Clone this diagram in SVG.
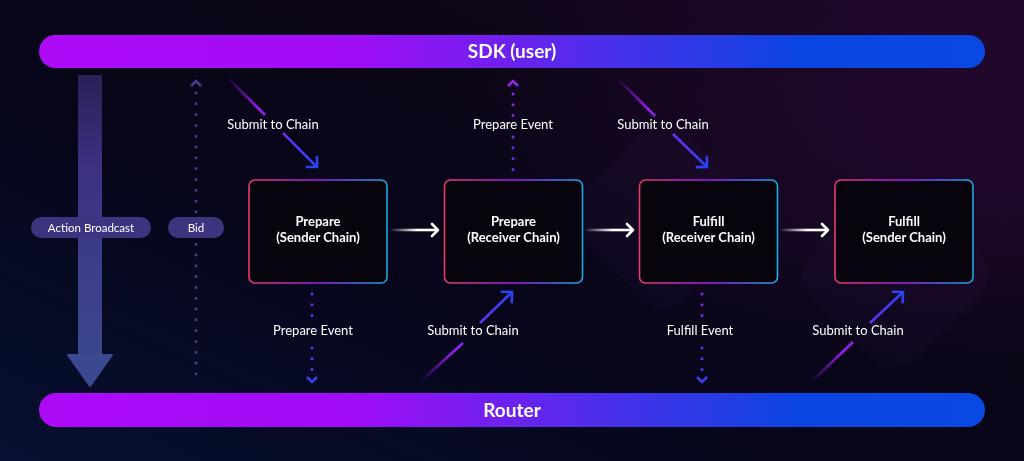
<svg xmlns="http://www.w3.org/2000/svg" width="1024" height="461" viewBox="0 0 1024 461">
<defs>
  <linearGradient id="bg" x1="0" y1="1" x2="1" y2="0">
    <stop offset="0" stop-color="#061030"/>
    <stop offset="0.4" stop-color="#07061a"/>
    <stop offset="0.7" stop-color="#0e0618"/>
    <stop offset="1" stop-color="#1e0628"/>
  </linearGradient>
  <radialGradient id="glowR" cx="0.95" cy="0.3" r="0.5">
    <stop offset="0" stop-color="#2a0838" stop-opacity="0.6"/>
    <stop offset="1" stop-color="#2a0838" stop-opacity="0"/>
  </radialGradient>
  <linearGradient id="bar" x1="39" y1="0" x2="985" y2="0" gradientUnits="userSpaceOnUse">
    <stop offset="0" stop-color="#ad0af8"/>
    <stop offset="0.33" stop-color="#a10cf7"/>
    <stop offset="0.6" stop-color="#4b2fea"/>
    <stop offset="0.8" stop-color="#0b45e1"/>
    <stop offset="1" stop-color="#0a48e2"/>
  </linearGradient>
  <linearGradient id="nodeStroke" x1="0" y1="0" x2="1" y2="0">
    <stop offset="0" stop-color="#e63a6a"/>
    <stop offset="0.5" stop-color="#a01ef0"/>
    <stop offset="1" stop-color="#16aaea"/>
  </linearGradient>
  <linearGradient id="shaft" x1="0" y1="75" x2="0" y2="386" gradientUnits="userSpaceOnUse">
    <stop offset="0" stop-color="#3a2c74" stop-opacity="0.7"/>
    <stop offset="0.3" stop-color="#3d3282"/>
    <stop offset="1" stop-color="#3b4a90"/>
  </linearGradient>
  <linearGradient id="wArrow" x1="0" y1="0" x2="1" y2="0">
    <stop offset="0" stop-color="#ffffff" stop-opacity="0"/>
    <stop offset="0.6" stop-color="#ffffff"/>
    <stop offset="1" stop-color="#ffffff"/>
  </linearGradient>
  <linearGradient id="s1" x1="227" y1="77" x2="317" y2="167" gradientUnits="userSpaceOnUse">
    <stop offset="0" stop-color="#9a1cf0" stop-opacity="0"/>
    <stop offset="0.35" stop-color="#9a1cf0"/>
    <stop offset="1" stop-color="#2a44f5"/>
  </linearGradient>
  <linearGradient id="s2" x1="617" y1="78" x2="707" y2="167" gradientUnits="userSpaceOnUse">
    <stop offset="0" stop-color="#9a1cf0" stop-opacity="0"/>
    <stop offset="0.35" stop-color="#9a1cf0"/>
    <stop offset="1" stop-color="#2a44f5"/>
  </linearGradient>
  <linearGradient id="s3" x1="420" y1="382" x2="512" y2="292" gradientUnits="userSpaceOnUse">
    <stop offset="0" stop-color="#9a1cf0" stop-opacity="0"/>
    <stop offset="0.35" stop-color="#9a1cf0"/>
    <stop offset="1" stop-color="#2a44f5"/>
  </linearGradient>
  <linearGradient id="s4" x1="810" y1="383" x2="903" y2="292" gradientUnits="userSpaceOnUse">
    <stop offset="0" stop-color="#9a1cf0" stop-opacity="0"/>
    <stop offset="0.35" stop-color="#9a1cf0"/>
    <stop offset="1" stop-color="#2a44f5"/>
  </linearGradient>
  <linearGradient id="dotDown" x1="0" y1="290" x2="0" y2="385" gradientUnits="userSpaceOnUse">
    <stop offset="0" stop-color="#8a22ea"/>
    <stop offset="1" stop-color="#4a3af0"/>
  </linearGradient>
  <linearGradient id="dotUp" x1="0" y1="80" x2="0" y2="172" gradientUnits="userSpaceOnUse">
    <stop offset="0" stop-color="#9a22ee"/>
    <stop offset="1" stop-color="#5a34e8"/>
  </linearGradient>
  <marker id="chev" viewBox="-10 -10 20 20" markerWidth="20" markerHeight="20" refX="0" refY="0" orient="auto" markerUnits="userSpaceOnUse">
    <path d="M-7,-7 L0,0 L-7,7" fill="none" stroke="#2a44f5" stroke-width="2.6" stroke-linecap="square"/>
  </marker>
</defs>
<style>
  .lbl { font-family: Lato, "Liberation Sans", sans-serif; font-size: 13px; fill: #ffffff; text-anchor: middle; }
  .pill { font-family: Lato, "Liberation Sans", sans-serif; font-size: 11.5px; fill: #ffffff; text-anchor: middle; }
  .ntxt { font-family: Lato, "Liberation Sans", sans-serif; font-size: 13px; font-weight: bold; fill: #ffffff; text-anchor: middle; }
  .btxt { font-family: Lato, "Liberation Sans", sans-serif; font-size: 19px; font-weight: bold; fill: #ffffff; text-anchor: middle; }
  .node { fill: #07040e; stroke: url(#nodeStroke); stroke-width: 1.6; }
  .diag { fill: none; stroke-width: 2.6; stroke-linecap: butt; }
  .dots { fill: none; stroke-width: 3; stroke-linecap: round; stroke-dasharray: 0 10.8; }
  .wbar { fill: url(#wArrow); }
  .whead { fill: none; stroke: #ffffff; stroke-width: 2.6; stroke-linecap: round; stroke-linejoin: round; }
</style>

<rect width="1024" height="461" fill="url(#bg)"/>
<rect width="1024" height="461" fill="url(#glowR)"/>
<g opacity="0.025" fill="#a070ff">
  <rect x="590" y="140" width="150" height="150" rx="30" transform="rotate(45 665 215)"/>
  <rect x="820" y="200" width="150" height="150" rx="30" transform="rotate(45 895 275)"/>
</g>

<g id="sdk">
  <rect x="39" y="35" width="946" height="33" rx="16.5" fill="url(#bar)"/>
  <text class="btxt" x="512" y="58">SDK (user)</text>
</g>
<g id="router">
  <rect x="39" y="393" width="946" height="34" rx="17" fill="url(#bar)"/>
  <text class="btxt" x="512" y="416.5">Router</text>
</g>

<g id="connectors">
  <!-- big action broadcast arrow -->
  <rect x="78" y="75" width="24" height="282" fill="url(#shaft)"/>
  <path d="M68,355 L112,355 L90,386 Z" fill="#3b4a90" stroke="#3b4a90" stroke-width="2" stroke-linejoin="round"/>
  <!-- bid dotted -->
  <line class="dots" x1="196" y1="93" x2="196" y2="377" stroke="#4a3c8c"/>
  <path d="M191,86 L196,81 L201,86" fill="none" stroke="#4a3c8c" stroke-width="2.6"/>
  <!-- white arrows between nodes -->
  <rect class="wbar" x="389" y="228.7" width="48" height="2.6"/>
  <path class="whead" d="M432,224 L438,230 L432,236"/>
  <rect class="wbar" x="584" y="228.7" width="48" height="2.6"/>
  <path class="whead" d="M627,224 L633,230 L627,236"/>
  <rect class="wbar" x="779" y="228.7" width="48" height="2.6"/>
  <path class="whead" d="M822,224 L828,230 L822,236"/>
  <!-- submit to chain diagonals -->
  <line class="diag" x1="227" y1="77" x2="265" y2="115" stroke="url(#s1)"/>
  <line class="diag" x1="283" y1="133" x2="317" y2="167" stroke="url(#s1)" marker-end="url(#chev)"/>
  <line class="diag" x1="617" y1="78" x2="655" y2="116" stroke="url(#s2)"/>
  <line class="diag" x1="673" y1="134" x2="707" y2="167" stroke="url(#s2)" marker-end="url(#chev)"/>
  <line class="diag" x1="420" y1="382" x2="463" y2="343" stroke="url(#s3)"/>
  <line class="diag" x1="480" y1="323" x2="512" y2="292" stroke="url(#s3)" marker-end="url(#chev)"/>
  <line class="diag" x1="810" y1="383" x2="853" y2="342" stroke="url(#s4)"/>
  <line class="diag" x1="870" y1="323" x2="903" y2="292" stroke="url(#s4)" marker-end="url(#chev)"/>
  <!-- prepare event up -->
  <line class="dots" x1="513" y1="94" x2="513" y2="116" stroke="url(#dotUp)"/>
  <line class="dots" x1="513" y1="137" x2="513" y2="170" stroke="url(#dotUp)"/>
  <path d="M508,86 L513,81 L518,86" fill="none" stroke="#9a22ee" stroke-width="2.6"/>
  <!-- prepare event down -->
  <line class="dots" x1="312" y1="294" x2="312" y2="317" stroke="url(#dotDown)"/>
  <line class="dots" x1="312" y1="348" x2="312" y2="371" stroke="url(#dotDown)"/>
  <path d="M307,377 L312,382 L317,377" fill="none" stroke="#3a40f0" stroke-width="2.6"/>
  <!-- fulfill event down -->
  <line class="dots" x1="702" y1="294" x2="702" y2="317" stroke="url(#dotDown)"/>
  <line class="dots" x1="702" y1="348" x2="702" y2="371" stroke="url(#dotDown)"/>
  <path d="M697,377 L702,382 L707,377" fill="none" stroke="#3a40f0" stroke-width="2.6"/>
  <!-- labels -->
  <text class="lbl" x="273" y="129">Submit to Chain</text>
  <text class="lbl" x="663" y="129">Submit to Chain</text>
  <text class="lbl" x="513" y="129">Prepare Event</text>
  <text class="lbl" x="313" y="335">Prepare Event</text>
  <text class="lbl" x="473" y="335">Submit to Chain</text>
  <text class="lbl" x="700" y="335">Fulfill Event</text>
  <text class="lbl" x="858" y="335">Submit to Chain</text>
</g>

<g id="action-broadcast">
  <rect x="31" y="217" width="120" height="21" rx="10.5" fill="#3d3480"/>
  <text class="pill" x="91" y="232">Action Broadcast</text>
</g>
<g id="bid">
  <rect x="168" y="217" width="56" height="21" rx="10.5" fill="#3d3480"/>
  <text class="pill" x="196" y="232">Bid</text>
</g>

<g id="prepare-sender">
  <rect class="node" x="249" y="180" width="138" height="103" rx="6"/>
  <text class="ntxt" x="318" y="226">Prepare</text>
  <text class="ntxt" x="318" y="242">(Sender Chain)</text>
</g>
<g id="prepare-receiver">
  <rect class="node" x="444.5" y="180" width="138" height="103" rx="6"/>
  <text class="ntxt" x="513.5" y="226">Prepare</text>
  <text class="ntxt" x="513.5" y="242">(Receiver Chain)</text>
</g>
<g id="fulfill-receiver">
  <rect class="node" x="639.5" y="180" width="138" height="103" rx="6"/>
  <text class="ntxt" x="708.5" y="226">Fulfill</text>
  <text class="ntxt" x="708.5" y="242">(Receiver Chain)</text>
</g>
<g id="fulfill-sender">
  <rect class="node" x="835" y="180" width="138" height="103" rx="6"/>
  <text class="ntxt" x="904" y="226">Fulfill</text>
  <text class="ntxt" x="904" y="242">(Sender Chain)</text>
</g>
</svg>
